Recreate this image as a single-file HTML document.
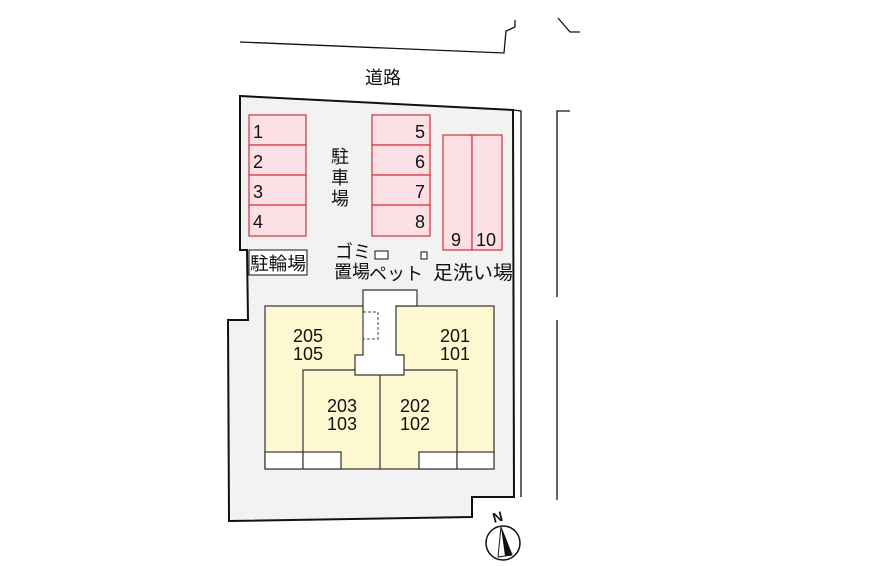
<!DOCTYPE html>
<html><head><meta charset="utf-8"><style>
html,body{margin:0;padding:0;background:#fff;}
svg{display:block;font-family:"Liberation Sans","Noto Sans CJK JP",sans-serif;}
</style></head><body>
<svg width="879" height="566" viewBox="0 0 879 566" xmlns="http://www.w3.org/2000/svg">
<polyline points="240,42 504,53 506,31 515,27 515,20" fill="none" stroke="#111" stroke-width="1.3"/>
<polyline points="558,18 570,32 580,32" fill="none" stroke="#111" stroke-width="1.3"/>
<polyline points="570,111 557,111 557,297" fill="none" stroke="#111" stroke-width="1.3"/>
<line x1="557" y1="320" x2="557" y2="500" stroke="#111" stroke-width="1.3"/>
<text x="383" y="84" font-size="18" text-anchor="middle" fill="#111">道路</text>
<polygon points="240,96 513,110 514,497 472,497 472,517 229,521 228,320 248,320 247,250 240,250" fill="#f2f2f2" stroke="#111" stroke-width="2"/>
<polyline points="513,110 521,111 521,497" fill="none" stroke="#111" stroke-width="1.3"/>
<g fill="#fde0e6" stroke="#d0303c" stroke-width="1.2">
<rect x="249" y="115" width="57" height="30"/><rect x="249" y="145" width="57" height="30"/>
<rect x="249" y="175" width="57" height="30"/><rect x="249" y="205" width="57" height="31"/>
<rect x="372" y="115" width="58" height="30"/><rect x="372" y="145" width="58" height="30"/>
<rect x="372" y="175" width="58" height="30"/><rect x="372" y="205" width="58" height="31"/>
<rect x="443" y="135" width="29" height="115"/><rect x="472" y="135" width="30" height="115"/>
</g>
<g font-size="18" fill="#111">
<text x="253" y="138">1</text><text x="253" y="168">2</text><text x="253" y="198">3</text><text x="253" y="228">4</text>
<text x="425" y="138" text-anchor="end">5</text><text x="425" y="168" text-anchor="end">6</text><text x="425" y="198" text-anchor="end">7</text><text x="425" y="228" text-anchor="end">8</text>
<text x="451" y="246">9</text><text x="476" y="246">10</text>
</g>
<g font-size="18" fill="#111" text-anchor="middle">
<text x="340" y="163">駐</text><text x="340" y="184">車</text><text x="340" y="205">場</text>
</g>
<rect x="249" y="250" width="58" height="25" fill="#fff" stroke="#111" stroke-width="1"/>
<text x="278" y="270" font-size="18" text-anchor="middle" fill="#111" textLength="56" lengthAdjust="spacingAndGlyphs">駐輪場</text>
<text x="335" y="258" font-size="18" fill="#111">ゴミ</text>
<text x="334" y="278" font-size="18" fill="#111">置場</text>
<rect x="375" y="251" width="13" height="8" fill="#fff" stroke="#111" stroke-width="1"/>
<text x="369" y="280" font-size="18" fill="#111">ペット</text>
<rect x="421" y="252" width="6" height="7" fill="#fff" stroke="#111" stroke-width="1"/>
<text x="433" y="279" font-size="19" fill="#111" textLength="80" lengthAdjust="spacingAndGlyphs">足洗い場</text>
<rect x="265" y="306" width="229" height="163" fill="#fdf8cf" stroke="#333" stroke-width="1.2"/>
<polyline points="303,469 303,370 355,370" fill="none" stroke="#333" stroke-width="1.2"/>
<polyline points="404,370 457,370 457,469" fill="none" stroke="#333" stroke-width="1.2"/>
<line x1="380" y1="375" x2="380" y2="469" stroke="#333" stroke-width="1.2"/>
<polygon points="363,290 417,290 417,306 396,306 396,355 404,355 404,375 355,375 355,355 363,355" fill="#fff" stroke="#333" stroke-width="1.2"/>
<rect x="363" y="312" width="15" height="27" fill="none" stroke="#444" stroke-width="1" stroke-dasharray="3,2"/>
<g fill="#fff" stroke="#333" stroke-width="1.2">
<rect x="265" y="452" width="38" height="17"/><rect x="303" y="452" width="38" height="17"/>
<rect x="419" y="452" width="38" height="17"/><rect x="457" y="452" width="37" height="17"/>
</g>
<g font-size="18" fill="#111" text-anchor="middle">
<text x="308" y="342">205</text><text x="308" y="360">105</text>
<text x="455" y="342">201</text><text x="455" y="360">101</text>
<text x="342" y="412">203</text><text x="342" y="430">103</text>
<text x="415" y="412">202</text><text x="415" y="430">102</text>
</g>
<circle cx="503" cy="543" r="17" fill="#fff" stroke="#111" stroke-width="1.5"/>
<polygon points="501,527 498,557 512,555" fill="#fff" stroke="#111" stroke-width="1"/>
<polygon points="501,527 505,556 512,555" fill="#111"/>
<text x="494" y="523" font-size="14" font-weight="bold" fill="#111" transform="rotate(-15 494 523)">N</text>
</svg>
</body></html>
